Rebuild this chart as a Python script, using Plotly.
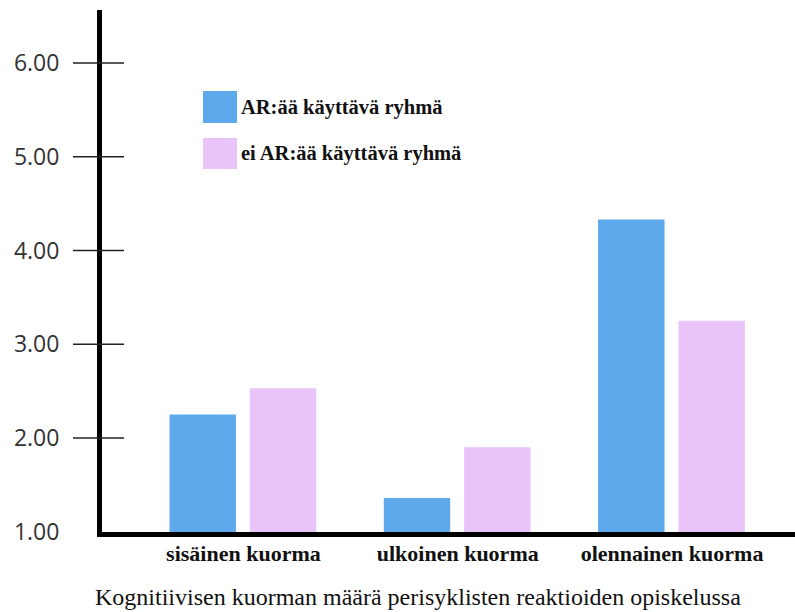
import plotly.graph_objects as go

# Data
categories = ["sisäinen kuorma", "ulkoinen kuorma", "olennainen kuorma"]
series_names = ["AR:ää käyttävä ryhmä", "ei AR:ää käyttävä ryhmä"]
ar_group = [2.25, 1.36, 4.33]
non_ar_group = [2.53, 1.90, 3.25]
y_ticks = [1, 2, 3, 4, 5, 6]
y_tick_labels = ["1.00", "2.00", "3.00", "4.00", "5.00", "6.00"]
x_title = "Kognitiivisen kuorman määrä perisyklisten reaktioiden opiskelussa"

colors = ["#5EA9EC", "#E8C4F8"]

W, H = 795, 612
ML, MR, MT, MB = 102, 0, 10, 80
PW, PH = W - ML - MR, H - MT - MB


def px_to_paper_x(px):
    return (px - ML) / PW


def px_to_paper_y(py):
    return (H - MB - py) / PH


xpos = list(range(len(categories)))

fig = go.Figure()
fig.add_trace(go.Bar(
    x=xpos, y=ar_group, name=series_names[0],
    marker=dict(color=colors[0], line=dict(width=0)),
    width=0.31, offset=-0.345, showlegend=False,
))
fig.add_trace(go.Bar(
    x=xpos, y=non_ar_group, name=series_names[1],
    marker=dict(color=colors[1], line=dict(width=0)),
    width=0.31, offset=0.03, showlegend=False,
))

# Crossing tick marks on the value axis
for v in y_ticks[1:]:
    fig.add_shape(
        type="line", xref="paper", yref="y",
        x0=px_to_paper_x(73), x1=px_to_paper_x(124), y0=v, y1=v,
        line=dict(color="#222222", width=1.5), layer="above",
    )

# Legend swatches and labels
swatch_rows = [(91, 123), (138, 169)]
for name, color, (top, bottom) in zip(series_names, colors, swatch_rows):
    fig.add_shape(
        type="rect", xref="paper", yref="paper",
        x0=px_to_paper_x(203), x1=px_to_paper_x(237),
        y0=px_to_paper_y(bottom), y1=px_to_paper_y(top),
        fillcolor=color, line=dict(width=0),
    )
    fig.add_annotation(
        xref="paper", yref="paper",
        x=px_to_paper_x(239), y=px_to_paper_y((top + bottom) / 2),
        xanchor="left", yanchor="middle", showarrow=False,
        text=name,
        font=dict(family="Liberation Serif", size=20.5, color="#111111", weight="bold"),
    )

# Axis title
fig.add_annotation(
    xref="paper", yref="paper",
    x=px_to_paper_x(418), y=px_to_paper_y(597),
    xanchor="center", yanchor="middle", showarrow=False,
    text=x_title,
    font=dict(family="Liberation Serif", size=24, color="#111111"),
)

fig.update_layout(
    width=W, height=H,
    margin=dict(l=ML, r=MR, t=MT, b=MB, pad=0),
    paper_bgcolor="white", plot_bgcolor="white",
    barmode="overlay",
    xaxis=dict(
        range=[-0.660, 2.574],
        tickvals=xpos, ticktext=categories,
        tickfont=dict(family="Liberation Serif", size=22, color="#111111", weight="bold"),
        showline=True, linecolor="black", linewidth=5,
        showgrid=False, zeroline=False, ticks="",
        ticklabelstandoff=-2,
    ),
    yaxis=dict(
        range=[0.997, 6.565],
        tickvals=y_ticks, ticktext=y_tick_labels,
        tickfont=dict(family="Open Sans", size=23, color="#333333"),
        showline=True, linecolor="black", linewidth=5,
        showgrid=False, zeroline=False, ticks="",
        ticklabelstandoff=33,
    ),
)

fig.write_html("out.html")
